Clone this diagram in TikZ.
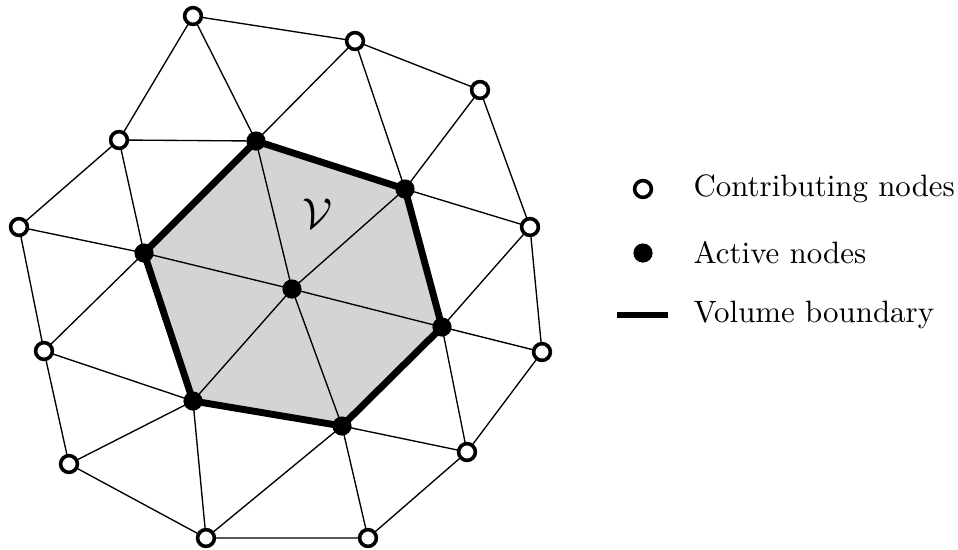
\documentclass[tikz,border=0pt]{standalone}
\usetikzlibrary{positioning}

\tikzset{
  contrib/.style={circle,draw,fill=white,line width=1.2pt,inner sep=0pt,minimum size=5.6pt},
  active/.style={circle,fill=black,inner sep=0pt,minimum size=6.4pt},
  mesh/.style={line width=0.45pt},
  bound/.style={line width=2.3pt,line join=miter},
  keytext/.style={anchor=west,inner sep=0pt,font=\fontsize{10.3}{12}\selectfont}
}

\begin{document}
\begin{tikzpicture}[x=0.3333pt,y=-0.3333pt]
  \useasboundingbox (0,0) rectangle (958,550);

  % active nodes
  \coordinate (c) at (292,289);
  \coordinate (a1) at (256,141);
  \coordinate (a2) at (405,189);
  \coordinate (a3) at (442,327);
  \coordinate (a4) at (342,426);
  \coordinate (a5) at (193,401);
  \coordinate (a6) at (144,253);

  % contributing nodes
  \coordinate (o1) at (193,16);
  \coordinate (o2) at (355,41);
  \coordinate (o3) at (480,90);
  \coordinate (o4) at (530,227);
  \coordinate (o5) at (542,352);
  \coordinate (o6) at (467,452);
  \coordinate (o7) at (368,538);
  \coordinate (o8) at (206,538);
  \coordinate (o9) at (69,464);
  \coordinate (o10) at (44,351);
  \coordinate (o11) at (19,227);
  \coordinate (o12) at (119,140);

  \fill[black!17] (a1) -- (a2) -- (a3) -- (a4) -- (a5) -- (a6) -- cycle;

  \node at (318,214) []{\fontsize{13.5}{16}\selectfont$\mathcal{V}$};

  \draw[mesh] (o1) -- (o2) -- (o3) -- (o4) -- (o5) -- (o6) -- (o7)
    -- (o8) -- (o9) -- (o10) -- (o11) -- (o12) -- cycle;
  \foreach \a in {a1,a2,a3,a4,a5,a6}
    \draw[mesh] (c) -- (\a);
  \foreach \o/\a in {o1/a1,o12/a1,o2/a1,o2/a2,o3/a2,o4/a2,o4/a3,o5/a3,o6/a3,
    o6/a4,o7/a4,o8/a4,o8/a5,o9/a5,o10/a5,o10/a6,o11/a6,o12/a6}
    \draw[mesh] (\o) -- (\a);

  \draw[bound] (a1) -- (a2) -- (a3) -- (a4) -- (a5) -- (a6) -- cycle;

  \foreach \a in {c,a1,a2,a3,a4,a5,a6}
    \node (n\a) at (\a) [active]{};
  \foreach \o in {o1,o2,o3,o4,o5,o6,o7,o8,o9,o10,o11,o12}
    \node (n\o) at (\o) [contrib]{};

  % legend
  \node (kc) at (643,189) [contrib]{};
  \node (ka) at (643,253) [active]{};
  \coordinate (kl1) at (617,315);
  \coordinate (kl2) at (668,315);
  \draw[bound] (kl1) -- (kl2);

  \node (tc) at (693,189) [keytext]{Contributing nodes};
  \node (ta) at (693,253) [keytext]{Active nodes};
  \node (tb) at (693,315) [keytext]{Volume boundary};

\end{tikzpicture}
\end{document}
